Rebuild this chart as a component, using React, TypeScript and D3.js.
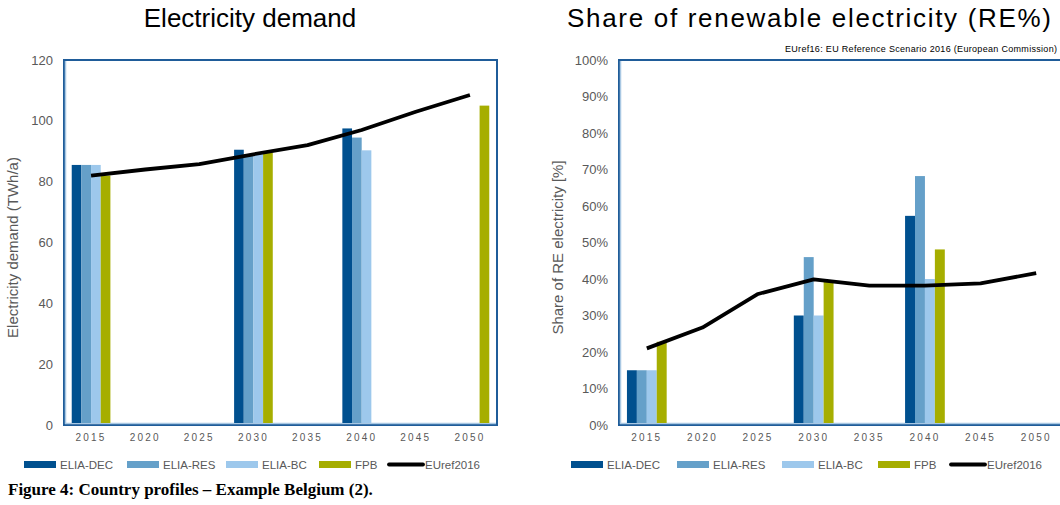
import * as d3 from 'd3'

const years = ['2015', '2020', '2025', '2030', '2035', '2040', '2045', '2050']
const seriesNames = ['ELIA-DEC', 'ELIA-RES', 'ELIA-BC', 'FPB']
const seriesColors = ['#00508f', '#65a0c9', '#9dc8ec', '#a6ae00']

// Electricity demand (TWh/a), null = no bar
const demandDec = [85.5, null, null, 90.5, null, 97.5, null, null]
const demandRes = [85.5, null, null, 89, null, 94.5, null, null]
const demandBc = [85.5, null, null, 89, null, 90.3, null, null]
const demandFpb = [82, null, null, 89.5, null, null, null, 105]
const demandEuref = [82, 84, 85.8, 89, 92, 97, 103, 108.5]
const demandTicks = [0, 20, 40, 60, 80, 100, 120]

// Share of renewable electricity (%)
const shareDec = [15, null, null, 30, null, 57.3, null, null]
const shareRes = [15, null, null, 46, null, 68.2, null, null]
const shareBc = [15, null, null, 30, null, 40, null, null]
const shareFpb = [22.8, null, null, 39.3, null, 48.1, null, null]
const shareEuref = [21, 26.7, 35.9, 39.9, 38.2, 38.2, 38.8, 41.6]
const shareTicks = [0, 10, 20, 30, 40, 50, 60, 70, 80, 90, 100]

const font = 'Liberation Sans, Arial, sans-serif'
const grey = '#595959'

interface PanelProps {
  left: number
  right: number
  title: string
  titleX: number
  titleLen?: number
  yTitle: string
  yTitleX: number
  ticks: number[]
  yMax: number
  fmt: (v: number) => string
  bars: (number | null)[][]
  line: number[]
  legendX: number[]
}

const Panel = (p: PanelProps) => {
  const top = 60
  const bottom = 425
  const x = d3.scaleBand<string>().domain(years).range([p.left, p.right]).padding(0)
  const y = d3.scaleLinear().domain([0, p.yMax]).range([bottom, top])
  const inner = d3.scaleBand<number>()
    .domain(d3.range(seriesNames.length))
    .range([0, x.bandwidth()])
    .paddingOuter(0.8)
    .paddingInner(0)
  const lineGen = d3.line<number>()
    .x((_, i) => (x(years[i]) || 0) + x.bandwidth() / 2)
    .y(d => y(d))

  return (
    <g>
      <text x={p.titleX} y={27} textAnchor="middle" fontSize={26} fill="#000" fontFamily={font}
        textLength={p.titleLen} lengthAdjust={p.titleLen ? 'spacing' : undefined}>{p.title}</text>
      {/* cadre */}
      <rect x={p.left} y={top} width={p.right - p.left} height={bottom - top} fill="none" stroke="#1f5c99" strokeWidth={2} />
      <line x1={p.left + 1.5} x2={p.left + 1.5} y1={top + 1} y2={bottom - 1} stroke="#a9c8e3" strokeWidth={1.5} />
      <line x1={p.left + 1} x2={p.right - 1} y1={bottom - 1.5} y2={bottom - 1.5} stroke="#a9c8e3" strokeWidth={1.5} />
      {/* barres */}
      {p.bars.map((vals, s) =>
        vals.map((v, i) => v == null ? null : (
          <rect key={`${s}-${i}`}
            x={(x(years[i]) || 0) + (inner(s) || 0)}
            y={y(v)}
            width={inner.bandwidth()}
            height={y(0) - y(v) - 2}
            fill={seriesColors[s]} />
        ))
      )}
      <path d={lineGen(p.line) || ''} fill="none" stroke="#000" strokeWidth={3.8} strokeLinejoin="round" />
      {/* axe y */}
      {p.ticks.map(t => (
        <text key={t} x={p.left - 11} y={y(t)} dy="0.35em" textAnchor="end" fontSize={13} fill={grey} fontFamily={font}>{p.fmt(t)}</text>
      ))}
      <text transform={`translate(${p.yTitleX},${(top + bottom) / 2 + 5}) rotate(-90)`} textAnchor="middle" fontSize={15} fill={grey} fontFamily={font}>{p.yTitle}</text>
      {/* axe x */}
      {years.map(yr => (
        <text key={yr} x={(x(yr) || 0) + x.bandwidth() / 2} y={441} textAnchor="middle" fontSize={10} letterSpacing={2.2} fill={grey} fontFamily={font}>{yr}</text>
      ))}
      {/* légende */}
      {seriesNames.map((n, s) => (
        <g key={n}>
          <rect x={p.legendX[s]} y={461} width={32} height={7} fill={seriesColors[s]} />
          <text x={p.legendX[s] + 36} y={469} fontSize={11.5} fill={grey} fontFamily={font}>{n}</text>
        </g>
      ))}
      <line x1={p.legendX[4]} x2={p.legendX[4] + 34} y1={464.5} y2={464.5} stroke="#000" strokeWidth={3.8} strokeLinecap="round" />
      <text x={p.legendX[4] + 36} y={469} fontSize={11.5} fill={grey} fontFamily={font}>EUref2016</text>
    </g>
  )
}

export default function App() {
  return (
    <svg width={1060} height={505} style={{ position: 'absolute', left: 0, top: 0, background: '#fff' }}>
      <rect width={1060} height={505} fill="#fff" />
      <Panel left={64} right={497} title="Electricity demand" titleX={250}
        yTitle="Electricity demand (TWh/a)" yTitleX={18}
        ticks={demandTicks} yMax={120} fmt={v => `${v}`}
        bars={[demandDec, demandRes, demandBc, demandFpb]} line={demandEuref}
        legendX={[24, 127, 226, 319, 389]} />
      <Panel left={619} right={1064} title="Share of renewable electricity (RE%)" titleX={809} titleLen={484}
        yTitle="Share of RE electricity [%]" yTitleX={563}
        ticks={shareTicks} yMax={100} fmt={v => `${v}%`}
        bars={[shareDec, shareRes, shareBc, shareFpb]} line={shareEuref}
        legendX={[571, 677, 782, 878, 951]} />
      <text x={785} y={52} fontSize={9} fill="#000" fontFamily={font}
        textLength={272} lengthAdjust="spacing">EUref16:  EU Reference  Scenario  2016  (European  Commission)</text>
      <text x={8} y={495} fontSize={17} fontWeight="bold" fill="#000" fontFamily="Liberation Serif, Times New Roman, serif">Figure 4:  Country profiles – Example Belgium (2).</text>
    </svg>
  )
}
